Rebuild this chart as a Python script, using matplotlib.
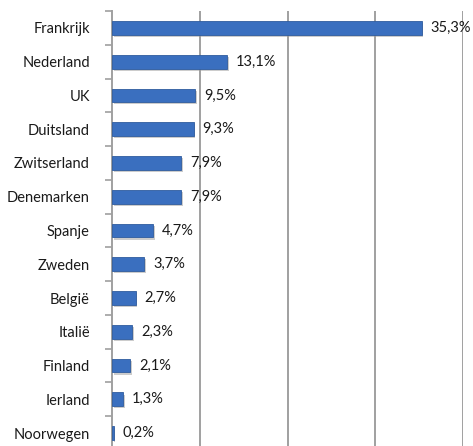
import matplotlib.pyplot as plt
import matplotlib.patheffects as pe
from matplotlib.ticker import FixedLocator, NullFormatter

countries = ["Frankrijk", "Nederland", "UK", "Duitsland", "Zwitserland", "Denemarken",
             "Spanje", "Zweden", "België", "Italië", "Finland", "Ierland", "Noorwegen"]
shares = [35.3, 13.1, 9.5, 9.3, 7.9, 7.9, 4.7, 3.7, 2.7, 2.3, 2.1, 1.3, 0.2]

plt.rcParams['font.family'] = ['Lato', 'DejaVu Sans']

fig = plt.figure(figsize=(4.73, 4.46), dpi=100)
ax = fig.add_axes([112 / 473, -4 / 446, 351 / 473, 439 / 446])

n = len(countries)
ypos = list(range(n))
bars = ax.barh(ypos, shares, height=0.41, color="#3a6fbf", edgecolor="#2f5c9e",
               linewidth=0.6, zorder=3)
# soft drop shadow like the original office chart
for b in bars:
    b.set_path_effects([pe.SimplePatchShadow(offset=(1.2, -1.5), shadow_rgbFace="#9a9a9a",
                                             alpha=0.5), pe.Normal()])

for y, v in zip(ypos, shares):
    ax.text(v + 1.0, y, f"{v:.1f}%".replace(".", ","), va="center", ha="left",
            fontsize=10.5, color="#1a1a1a", zorder=4)

ax.set_xlim(0, 40)
ax.set_ylim(n - 0.5, -0.5)
ax.set_xticks([10, 20, 30, 40])
ax.xaxis.set_ticklabels([])
ax.tick_params(axis="x", length=0)
ax.grid(axis="x", color="#a0a0a0", linewidth=1.4, zorder=0)

ax.set_yticks(ypos)
ax.set_yticklabels(countries, fontsize=10.5, color="#1a1a1a")
ax.tick_params(axis="y", which="major", length=0, pad=16)
ax.yaxis.set_minor_locator(FixedLocator([i - 0.5 for i in range(n + 1)]))
ax.yaxis.set_minor_formatter(NullFormatter())
ax.tick_params(axis="y", which="minor", length=5, width=1.2, color="#a0a0a0")

for side in ["top", "right", "bottom"]:
    ax.spines[side].set_visible(False)
ax.spines["left"].set_color("#a0a0a0")
ax.spines["left"].set_linewidth(1.4)

fig.savefig("out.png", dpi=100)
